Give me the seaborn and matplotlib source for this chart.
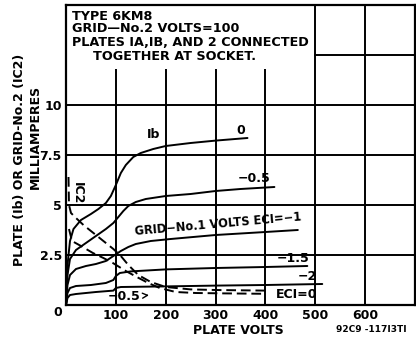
import numpy as np
import pandas as pd
import matplotlib
matplotlib.use("Agg")
import matplotlib.pyplot as plt
import seaborn as sns
from matplotlib.patches import Rectangle

# ---------------------------
# DATA
# ---------------------------
ib_0_v = [0, 3, 8, 15, 30, 50, 65, 80, 90, 100, 110, 120, 135, 150, 175, 200, 250, 300, 364]
ib_0_i = [0, 2.0, 3.2, 3.8, 4.25, 4.55, 4.8, 5.1, 5.45, 6.0, 6.6, 7.0, 7.4, 7.6, 7.8, 7.95, 8.1, 8.22, 8.35]

ib_05_v = [0, 3, 8, 20, 40, 60, 80, 95, 105, 115, 125, 140, 160, 200, 250, 300, 350, 418]
ib_05_i = [0, 1.5, 2.3, 2.75, 3.1, 3.45, 3.8, 4.1, 4.4, 4.7, 4.95, 5.15, 5.3, 5.45, 5.55, 5.7, 5.8, 5.9]

ib_1_v = [0, 3, 8, 20, 40, 60, 80, 95, 110, 125, 140, 170, 210, 300, 400, 465]
ib_1_i = [0, 1.0, 1.5, 1.8, 1.95, 2.05, 2.2, 2.45, 2.7, 2.9, 3.05, 3.2, 3.3, 3.5, 3.65, 3.75]

ib_15_v = [0, 3, 8, 20, 50, 80, 95, 100, 108, 130, 200, 300, 400, 484]
ib_15_i = [0, 0.6, 0.85, 0.95, 1.0, 1.1, 1.25, 1.45, 1.6, 1.68, 1.78, 1.85, 1.9, 1.95]

ib_2_v = [0, 3, 8, 20, 60, 95, 100, 110, 200, 300, 400, 514]
ib_2_i = [0, 0.35, 0.5, 0.55, 0.65, 0.72, 0.85, 0.9, 0.93, 0.97, 1.0, 1.05]

ic2_0_v = [5, 6, 10, 20, 35, 55, 75, 95, 110, 125, 145, 170, 200, 250, 300, 400]
ic2_0_i = [6.4, 5.0, 4.6, 4.35, 4.0, 3.6, 3.2, 2.8, 2.45, 2.0, 1.5, 1.15, 0.9, 0.78, 0.75, 0.72]

ic2_05_v = [6, 12, 30, 54, 75, 94, 120, 142, 165, 188, 220, 260, 320, 400]
ic2_05_i = [3.8, 3.2, 2.95, 2.6, 2.35, 2.1, 1.7, 1.4, 1.1, 0.85, 0.65, 0.6, 0.58, 0.56]

x_ticks = [0, 100, 200, 300, 400, 500, 600, 700]
x_labels = ["", "100", "200", "300", "400", "500", "600", ""]
y_ticks = [0, 2.5, 5, 7.5, 10, 12.5, 15]
y_labels = ["", "2.5", "5", "7.5", "10", "", ""]

# ---------------------------
# STYLE
# ---------------------------
sns.set_theme(style="white")
plt.rcParams["font.family"] = ["DejaVu Sans"]
plt.rcParams["font.weight"] = "bold"
plt.rcParams["text.color"] = "black"
plt.rcParams["xtick.color"] = "black"
plt.rcParams["ytick.color"] = "black"

fig = plt.figure(figsize=(4.16, 3.41), dpi=100)
ax = fig.add_axes([66 / 416, 1 - 305 / 341, (415 - 66) / 416, (305 - 5) / 341])

curves = [
    (ib_0_v, ib_0_i, "-"),
    (ib_05_v, ib_05_i, "-"),
    (ib_1_v, ib_1_i, "-"),
    (ib_15_v, ib_15_i, "-"),
    (ib_2_v, ib_2_i, "-"),
    (ic2_0_v, ic2_0_i, "--"),
    (ic2_05_v, ic2_05_i, "--"),
]
for v, i, ls in curves:
    df = pd.DataFrame({"V": v, "I": i})
    sns.lineplot(data=df, x="V", y="I", estimator=None, sort=False,
                 color="black", lw=1.4, ax=ax, zorder=3, linestyle=ls)
for line in ax.lines:
    if line.get_linestyle() == "--":
        line.set_dashes((5, 2.5))

ax.set_xlim(0, 700)
ax.set_ylim(0, 15)
ax.set_xticks(x_ticks)
ax.set_xticklabels(x_labels)
ax.set_yticks(y_ticks)
ax.set_yticklabels(y_labels)
ax.tick_params(length=0, labelsize=9, pad=3)
ax.grid(True, color="black", lw=1.4)
ax.set_axisbelow(True)
for s in ax.spines.values():
    s.set_color("black")
    s.set_linewidth(1.6)
ax.set_xlabel("")
ax.set_ylabel("")

# header box over the grid
ax.add_patch(Rectangle((2, 11.8), 496, 3.15, facecolor="white", edgecolor="none", zorder=1.5))
head = dict(fontsize=9.2, fontweight="bold", ha="left", va="center", zorder=4)
ax.text(12, 14.45, "TYPE 6KM8", **head)
ax.text(12, 13.8, "GRID\u2014No.2 VOLTS=100", **head)
ax.text(12, 13.1, "PLATES IA,IB, AND 2 CONNECTED", **head)
ax.text(55, 12.4, "TOGETHER AT SOCKET.", **head)

# curve labels
lab = dict(fontsize=9, fontweight="bold", zorder=4)
ax.text(175, 8.55, "Ib", ha="center", va="center", **lab)
ax.text(350, 8.75, "0", ha="center", va="center", **lab)
ax.text(378, 6.3, "\u22120.5", ha="center", va="center", **lab)
ax.text(136, 3.35, "GRID\u2212No.1 VOLTS ECI=\u22121", ha="left", va="bottom", rotation=5,
        fontsize=8.3, fontweight="bold", zorder=4)
ax.text(455, 2.3, "\u22121.5", ha="center", va="center", **lab)
ax.text(484, 1.4, "\u22122", ha="center", va="center", **lab)
ax.text(420, 0.55, "ECI=0", ha="left", va="center", **lab)
ax.text(22, 5.6, "IC2", ha="center", va="center", rotation=-90, **lab)
ax.annotate("\u22120.5", xy=(172, 0.5), xytext=(84, 0.4), ha="left", va="center",
            arrowprops=dict(arrowstyle="->", color="black", lw=1.0), **lab)

# axis titles
fig.text(58 / 416, 1 - 313 / 341, "0", fontsize=9, fontweight="bold", ha="center", va="center")
fig.text(238 / 416, 1 - 330 / 341, "PLATE VOLTS", fontsize=9, fontweight="bold", ha="center", va="center")
fig.text(371 / 416, 1 - 330 / 341, "92C9 -117I3TI", fontsize=6.5, fontweight="bold", ha="center", va="center")
fig.text(20 / 416, 1 - 160 / 341, "PLATE (Ib) OR GRID-No.2 (IC2)", fontsize=9, fontweight="bold",
         rotation=90, ha="center", va="center")
fig.text(35 / 416, 1 - 137 / 341, "MILLIAMPERES", fontsize=9, fontweight="bold",
         rotation=90, ha="center", va="center")

fig.savefig("out.png", dpi=100)
